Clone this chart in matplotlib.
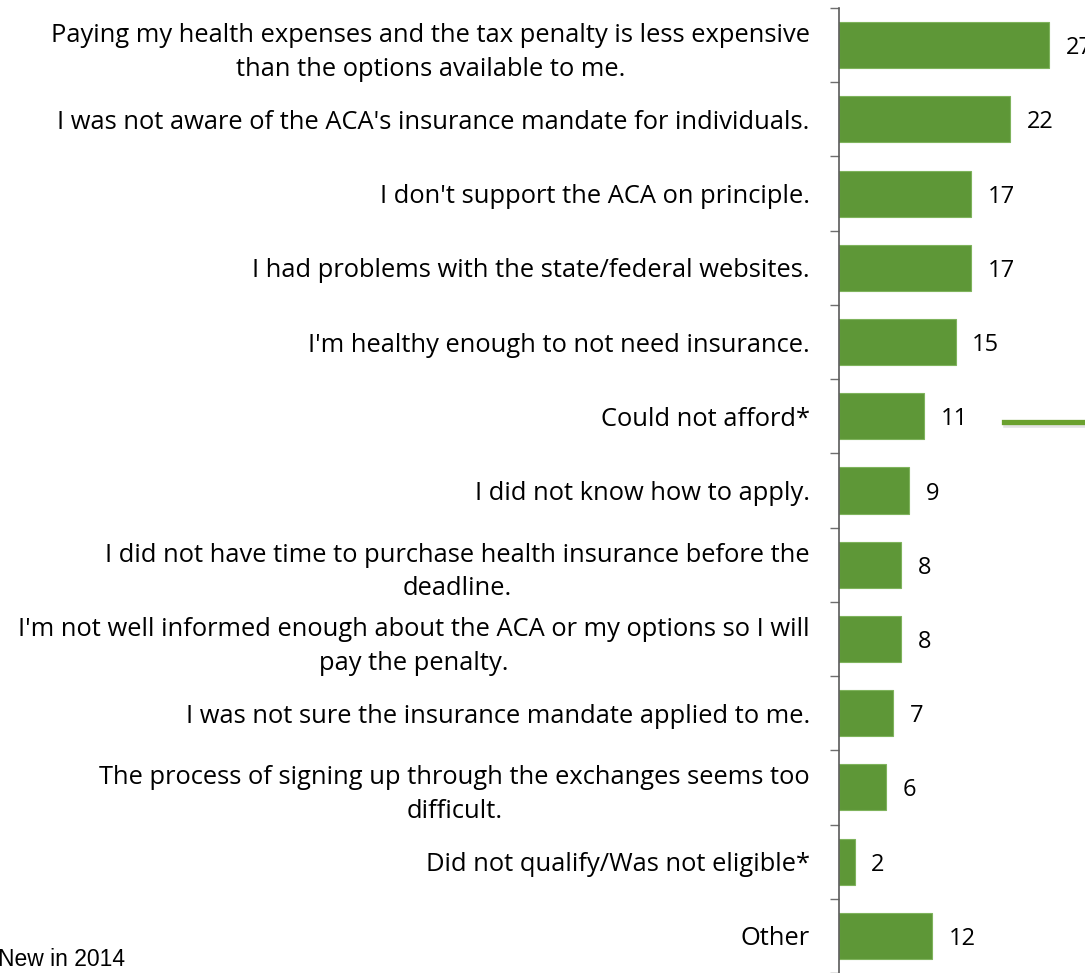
import matplotlib.pyplot as plt
from matplotlib.lines import Line2D

# reasons for staying uninsured, percent of respondents
reasons = [
    "Paying my health expenses and the tax penalty is less expensive\nthan the options available to me.",
    "I was not aware of the ACA's insurance mandate for individuals.",
    "I don't support the ACA on principle.",
    "I had problems with the state/federal websites.",
    "I'm healthy enough to not need insurance.",
    "Could not afford*",
    "I did not know how to apply.",
    "I did not have time to purchase health insurance before the\ndeadline.",
    "I'm not well informed enough about the ACA or my options so I will\npay the penalty.",
    "I was not sure the insurance mandate applied to me.",
    "The process of signing up through the exchanges seems too\ndifficult.",
    "Did not qualify/Was not eligible*",
    "Other",
]
percents = [27, 22, 17, 17, 15, 11, 9, 8, 8, 7, 6, 2, 12]

plt.rcParams['font.family'] = ['Open Sans', 'DejaVu Sans']

W, H = 1085, 973
fig = plt.figure(figsize=(W / 100, H / 100), dpi=100)
ax = fig.add_axes([839 / W, 0.0, 1 - 839 / W, 1 - 8 / H])

pos = list(range(len(reasons)))
ax.barh(pos, percents, height=0.62, color='#5e9737', edgecolor='#7fb35c', linewidth=0.8)
ax.set_ylim(len(reasons) - 0.5, -0.5)
ax.set_xlim(0, (W - 839) / 7.77)

for i, v in enumerate(percents):
    ax.annotate(str(v), (v, i), xytext=(12, 0), textcoords='offset points',
                va='center_baseline', ha='left', fontsize=17, color='black')

# category labels at centres, tick marks only at the boundaries
ax.set_yticks(pos)
ax.set_yticklabels(reasons, fontsize=18.4, ha='right', multialignment='center',
                   linespacing=1.45)
ax.tick_params(axis='y', which='major', length=0, pad=21)
ax.set_yticks([p - 0.5 for p in range(len(reasons) + 1)], minor=True)
ax.tick_params(axis='y', which='minor', length=6.5, width=1, color='#6e6e6e', direction='out')

ax.xaxis.set_visible(False)
for side in ['top', 'right', 'bottom']:
    ax.spines[side].set_visible(False)
ax.spines['left'].set_color('#5a5a5a')
ax.spines['left'].set_linewidth(1.2)

# footnote
fig.text(-2 / W, (H - 966) / H, "New in 2014", fontsize=16.5, family='Liberation Sans',
         ha='left', va='baseline')

# short accent line with a faint shadow on the right
fig.add_artist(Line2D([1006 / W, 1.0], [(H - 425) / H] * 2, color='#cfcfcf', lw=4,
                      transform=fig.transFigure, alpha=0.6))
fig.add_artist(Line2D([1004 / W, 1.0], [(H - 422) / H] * 2, color='#6ba12e', lw=3.8,
                      transform=fig.transFigure))

fig.savefig('out.png', dpi=100)
